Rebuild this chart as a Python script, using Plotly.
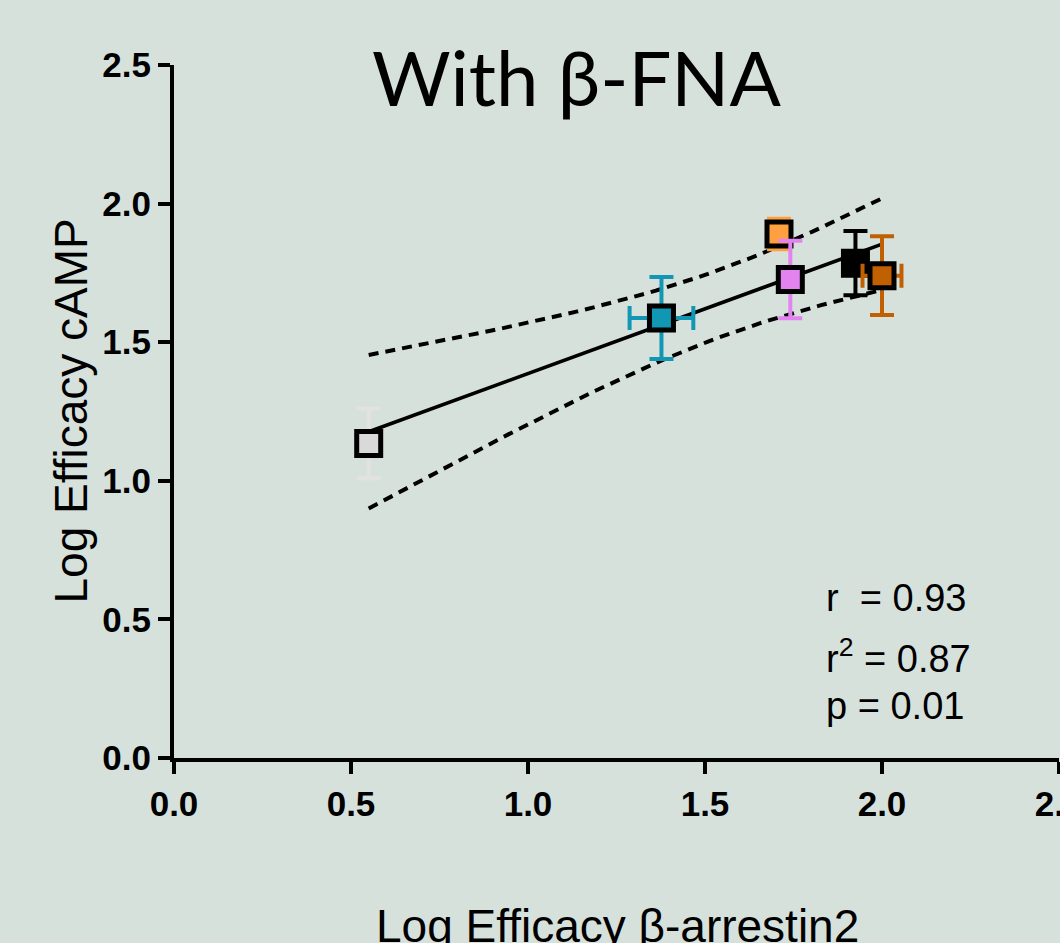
import numpy as np
import plotly.graph_objects as go

# ---- data ----
compounds = ["c1", "c2", "c3", "c4", "c5", "c6"]
x_vals = [0.550, 1.377, 1.709, 1.741, 1.925, 2.000]
y_vals = [1.135, 1.587, 1.890, 1.726, 1.785, 1.740]
x_err = [0.0, 0.090, 0.0, 0.0, 0.0, 0.055]
y_err = [0.126, 0.148, 0.055, 0.140, 0.116, 0.142]
fill_colors = ["#d9d9d9", "#1196b4", "#ffa040", "#e283f0", "#000000", "#c06000"]
err_colors = ["#e2e2e2", "#1196b4", "#ffa040", "#e283f0", "#000000", "#c06000"]
tick_vals = [0.0, 0.5, 1.0, 1.5, 2.0, 2.5]
tick_text = ["0.0", "0.5", "1.0", "1.5", "2.0", "2.5"]
stats_text = ["r\u00a0\u00a0= 0.93", "r<sup>2</sup> = 0.87", "p = 0.01"]
title_text = "With β-FNA"
x_title = "Log Efficacy β-arrestin2"
y_title = "Log Efficacy cAMP"

BG = "#d7e1dc"
W, H = 1060, 943
L, R, T, B = 174, 1, 65, 185

# ---- linear regression with 95% confidence band ----
x = np.array(x_vals)
y = np.array(y_vals)
n = len(x)
slope, intercept = np.polyfit(x, y, 1)
xs = np.linspace(x.min(), x.max(), 60)
yfit = slope * xs + intercept
res = y - (slope * x + intercept)
s = np.sqrt(np.sum(res ** 2) / (n - 2))
sxx = np.sum((x - x.mean()) ** 2)
t_crit = 2.776445  # t(0.975, df=4)
half = t_crit * s * np.sqrt(1.0 / n + (xs - x.mean()) ** 2 / sxx)

fig = go.Figure()
dash = "10px,7px"
fig.add_trace(go.Scatter(x=xs, y=yfit + half, mode="lines",
                         line=dict(color="black", width=4, dash=dash),
                         hoverinfo="skip", showlegend=False))
fig.add_trace(go.Scatter(x=xs, y=yfit - half, mode="lines",
                         line=dict(color="black", width=4, dash=dash),
                         hoverinfo="skip", showlegend=False))
fig.add_trace(go.Scatter(x=xs, y=yfit, mode="lines",
                         line=dict(color="black", width=3.6),
                         hoverinfo="skip", showlegend=False))

for i, name in enumerate(compounds):
    fig.add_trace(go.Scatter(
        x=[x_vals[i]], y=[y_vals[i]], mode="markers", name=name,
        marker=dict(symbol="square", size=24, color=fill_colors[i],
                    line=dict(color="black", width=5)),
        error_y=dict(type="constant", value=y_err[i], visible=y_err[i] > 0,
                     color=err_colors[i], thickness=4, width=12),
        error_x=dict(type="constant", value=x_err[i], visible=x_err[i] > 0,
                     color=err_colors[i], thickness=4, width=12),
        showlegend=False, cliponaxis=False))

axis_common = dict(
    range=[0, 2.5], tickvals=tick_vals, ticktext=tick_text,
    showline=True, linecolor="black", linewidth=4,
    ticks="outside", ticklen=12, tickwidth=3.5, tickcolor="black",
    showgrid=False, zeroline=False, ticklabeloverflow="allow", automargin=False,
    tickfont=dict(family="Liberation Sans, Arial", size=35, color="black", weight="bold"),
    fixedrange=True,
)
fig.update_xaxes(**axis_common)
fig.update_yaxes(**axis_common)

ph = H - T - B
pw = W - L - R


def px_x(p):
    return (p - L) / pw


def px_y(p):
    return (H - B - p) / ph


annotations = [
    dict(text=title_text, x=px_x(576), y=px_y(76), xref="paper", yref="paper",
         xanchor="center", yanchor="middle", showarrow=False,
         font=dict(family="Lato, Open Sans", size=76, color="black")),
    dict(text=y_title, x=px_x(70), y=0.5, xref="paper", yref="paper",
         xanchor="center", yanchor="middle", textangle=-90, showarrow=False,
         font=dict(family="Liberation Sans, Arial", size=46, color="black")),
    dict(text=x_title, x=px_x(617), y=px_y(926), xref="paper", yref="paper",
         xanchor="center", yanchor="middle", showarrow=False,
         font=dict(family="Liberation Sans, Arial", size=46, color="black")),
]
for txt, yb in zip(stats_text, [598, 656, 706]):
    annotations.append(dict(text=txt, x=px_x(824), y=px_y(yb), xref="paper", yref="paper",
                            xanchor="left", yanchor="middle", showarrow=False,
                            font=dict(family="Liberation Sans, Arial", size=38, color="black")))

fig.update_layout(
    width=W, height=H, margin=dict(l=L, r=R, t=T, b=B, pad=0, autoexpand=False),
    paper_bgcolor=BG, plot_bgcolor=BG,
    annotations=annotations, showlegend=False,
)

fig.write_html("out.html", config={"displayModeBar": False},
               post_script="document.body.style.margin='0';document.body.style.overflow='hidden';")
